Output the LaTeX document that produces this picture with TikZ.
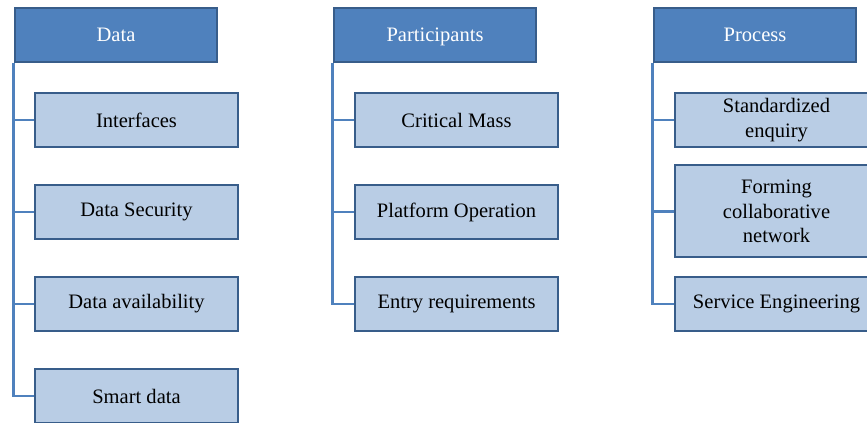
\documentclass[tikz,border=0pt]{standalone}
\usepackage{fontspec}
\setmainfont{Liberation Serif}
\definecolor{hdrblue}{HTML}{4F81BD}
\definecolor{boxblue}{HTML}{B9CDE5}
\definecolor{edgeblue}{HTML}{385D8A}
\tikzset{
  header/.style={draw=edgeblue, fill=hdrblue, text=white, line width=1.5pt,
    minimum width=152pt, minimum height=40pt, inner sep=2pt,
    text height=10.5pt, text depth=0pt},
  item/.style={draw=edgeblue, fill=boxblue, line width=1.5pt, align=center,
    minimum width=152pt, minimum height=40pt, inner sep=2pt},
  link/.style={draw=hdrblue, line width=1.8pt}
}
\begin{document}
\begin{tikzpicture}[x=0.75pt, y=-0.75pt, font=\rmfamily\fontsize{15.4}{18.4}\selectfont]
    \clip (0,0) rectangle (867,423);
    \fill[white] (0,0) rectangle (867,423);
    % Data
    \node[header] (data) at (116,35) {Data};
    \node[item] (interf) at (136.5,120) {Interfaces};
    \node[item] (secur) at (136.5,212) {Data Security};
    \node[item] (avail) at (136.5,304) {Data availability};
    \node[item] (smart) at (136.5,396) {Smart data};
    \draw[link] (data.south west) |- (smart.west);
    \draw[link] (data.south west) |- (interf.west);
    \draw[link] (data.south west) |- (secur.west);
    \draw[link] (data.south west) |- (avail.west);
    % Participants
    \node[header] (part) at (435,35) {Participants};
    \node[item] (mass) at (456.5,120) {Critical Mass};
    \node[item] (oper) at (456.5,212) {Platform Operation};
    \node[item] (entry) at (456.5,304) {Entry requirements};
    \draw[link] (part.south west) |- (entry.west);
    \draw[link] (part.south west) |- (mass.west);
    \draw[link] (part.south west) |- (oper.west);
    % Process
    \node[header] (proc) at (755,35) {Process};
    \node[item] (enq) at (776.5,120) {Standardized\\enquiry};
    \node[item, minimum height=69pt] (netw) at (776.5,211.5) {Forming\\collaborative\\network};
    \node[item] (serv) at (776.5,304) {Service Engineering};
    \draw[link] (proc.south west) |- (serv.west);
    \draw[link] (proc.south west) |- (enq.west);
    \draw[link] (proc.south west) |- (netw.west);
\end{tikzpicture}
\end{document}
